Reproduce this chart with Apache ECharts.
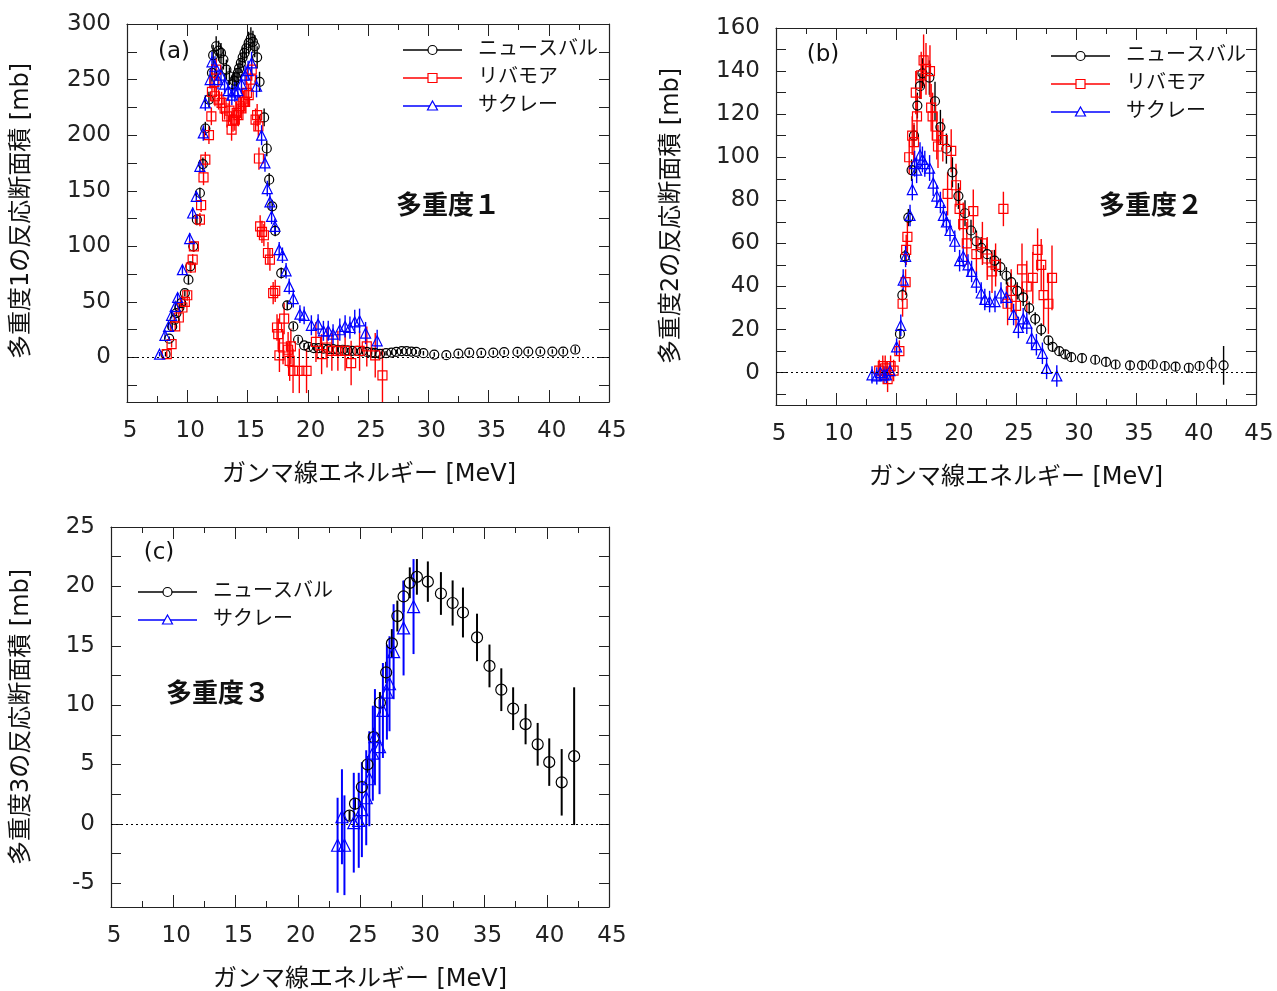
<!DOCTYPE html>
<html><head><meta charset="utf-8">
<script src="https://cdn.jsdelivr.net/npm/echarts@6/dist/echarts.min.js"></script>
<style>html,body{margin:0;padding:0;background:#fff;}#c{width:1277px;height:991px;}</style>
</head><body><div id="c"></div>
<script>
// ---------------- data: [energy MeV, cross section mb, error mb] ----------------
const SERIES_NAMES = ['ニュースバル', 'リバモア', 'サクレー'];
const X_LABEL = 'ガンマ線エネルギー [MeV]';
const Y_LABELS = ['多重度1の反応断面積 [mb]', '多重度2の反応断面積 [mb]', '多重度3の反応断面積 [mb]'];
const PANEL_TAGS = ['(a)', '(b)', '(c)'];
const PANEL_TITLES = ['多重度１', '多重度２', '多重度３'];
const X_RANGE = [5, 45, 5];
const Y_RANGES = [[-40, 300, 50], [-15, 160, 20], [-7, 25, 5]];

const A_NEWSUBARU = [
[8.2,3,2],[8.5,17,2],[8.75,28,3],[8.95,34,3],[9.1,40,3],[9.35,45,3],[9.5,49,3],[9.8,58,3],[10.1,70,4],[10.25,82,4],
[10.5,100,4],[10.8,124,5],[11.05,148,5],[11.3,174,6],[11.5,206,6],[11.8,232,7],[12.05,256,8],[12.15,272,9],[12.4,280,9],[12.6,276,9],
[12.8,274,9],[13.0,268,9],[13.25,259,9],[13.5,253,8],[13.75,246,8],[13.9,249,8],[14.05,252,8],[14.2,256,8],[14.3,260,8],[14.45,265,9],
[14.6,270,9],[14.75,274,9],[14.9,278,9],[15.1,283,10],[15.28,287,10],[15.45,284,10],[15.6,280,10],[15.8,270,10],[16.0,248,9],[16.38,216,8],
[16.6,188,7],[16.8,160,6],[17.05,136,6],[17.3,114,5],[17.8,76,5],[18.3,47,4],[18.8,28,3],[19.2,16,3],[19.7,11,2],[20.05,9.5,2],
[20.5,8.5,2],[20.9,8.5,2],[21.3,8,2],[21.7,7.5,2],[22.1,7.5,2],[22.5,7,2],[22.9,7,2],[23.3,6.5,2],[23.7,6,2],[24.1,6,2],
[24.5,5.5,2],[24.9,5,2],[25.3,4.5,2],[25.6,4,2],[26.0,3.3,2],[26.5,3.9,2],[26.95,4.5,2],[27.35,5.1,2],[27.8,5.7,2],[28.2,5.7,2],
[28.6,5.4,2],[29.0,5.1,2],[29.6,3.9,2],[30.5,2.7,2],[31.5,2.1,2],[32.5,3.6,2],[33.4,4.5,2],[34.4,4.2,2],[35.4,4.5,2],[36.3,4.8,2],
[37.4,5.1,2],[38.3,5.4,2],[39.3,5.4,2],[40.3,5.4,2],[41.2,5.4,2.5],[42.2,7.2,3]
];
const A_LIVERMORE = [
[8.3,3,3],[8.7,12,3],[9.0,28,4],[9.3,36,4],[9.6,45,4],[9.8,50,4],[10.0,56,5],[10.3,81,5],[10.45,88,5],[10.55,100,5],
[11.05,124,6],[11.15,137,6],[11.35,162,7],[11.5,178,7],[11.8,200,8],[12.0,217,8],[12.05,239,9],[12.25,248,9],[12.4,259,10],[12.3,235,9],
[12.6,232,9],[12.85,229,10],[13.1,224,10],[13.3,217,10],[13.5,222,10],[13.68,205,10],[13.8,213,10],[13.95,214,10],[14.1,220,10],[14.25,218,10],
[14.4,226,10],[14.5,224,10],[14.65,230,10],[14.8,230,10],[14.95,238,10],[15.1,236,10],[15.28,250,10],[15.35,259,10],[15.67,214,10],[15.8,218,10],
[15.9,208,10],[15.95,179,10],[16.05,118,10],[16.2,113,10],[16.36,110,10],[16.7,94,10],[16.86,88,10],[17.13,58,10],[17.3,60,10],[17.45,27,12],
[17.55,21,14],[17.65,2,15],[17.95,9,15],[18.04,35,14],[18.37,7,16],[18.5,-3,18],[18.6,10,16],[18.78,-12,20],[19.3,-12,20],[19.9,-12,20],
[20.68,14,18],[21.15,3,18],[21.6,9,18],[22.0,6,18],[22.5,6,18],[23.1,6,18],[23.6,-5,20],[24.3,6,18],[24.9,10,18],[25.6,2,20],[26.2,-16,24]
];
const A_SACLAY = [
[7.7,3,2],[8.15,20,3],[8.45,28,3],[8.7,38,3],[9.0,46,3],[9.2,54,4],[9.6,79,4],[10.2,107,5],[10.45,130,5],[10.75,145,5],
[11.05,172,6],[11.33,202,7],[11.5,229,7],[11.9,250,8],[12.05,266,9],[12.3,262,9],[12.55,250,9],[12.8,254,9],[13.1,246,9],[13.4,240,9],
[13.7,236,9],[13.95,239,9],[14.2,240,9],[14.5,246,9],[14.8,254,9],[15.05,258,9],[15.34,265,10],[15.75,244,10],[16.17,200,9],[16.45,175,8],
[16.64,152,7],[16.86,140,7],[17.0,127,7],[17.27,118,7],[17.63,97,7],[17.9,92,7],[18.2,78,7],[18.46,64,7],[18.8,53,8],[19.35,39,8],
[19.7,38,8],[20.3,29,9],[20.86,30,9],[21.3,24,9],[21.7,24,9],[22.1,21,9],[22.66,25,10],[23.1,28,10],[23.5,27,10],[23.9,32,11],
[24.3,33,11],[24.8,22,10],[25.76,15,10]
];
const B_NEWSUBARU = [
[15.33,18,2],[15.53,36,3],[15.75,54,3],[16.03,72,4],[16.3,94,5],[16.5,110,5],[16.78,124,6],[17.0,133,6],[17.2,139,7],[17.78,137,8],
[18.25,126,9],[18.7,114,8],[19.2,104,7],[19.7,93,7],[20.2,82,6],[20.75,74,6],[21.25,66,5],[21.7,61,5],[22.1,58,5],[22.6,55,5],
[23.2,52,5],[23.7,49,4],[24.2,45,4],[24.6,42,4],[25.1,38,4],[25.6,35,4],[26.1,30,3],[26.6,25,3],[27.1,20,3],[27.7,15,2],
[28.05,12,2],[28.6,10,2],[29.1,8.5,2],[29.6,7.2,2],[30.5,6.8,2],[31.6,6,2],[32.5,5,2],[33.3,3.8,2],[34.5,3.4,2],[35.5,3.4,2],
[36.4,3.8,2],[37.4,3.1,2],[38.3,2.8,2],[39.4,2.3,2],[40.3,3.1,2],[41.3,3.8,3.5],[42.3,3.4,9]
];
const B_LIVERMORE = [
[13.6,1,5],[13.9,3,5],[14.1,2,6],[14.3,-3,6],[14.55,3,5],[14.8,1,5],[15.28,10,5],[15.55,32,6],[15.8,42,6],[15.85,57,7],
[15.95,63,7],[16.1,100,8],[16.35,110,9],[16.5,107,9],[16.65,130,10],[16.75,119,10],[17.1,138,11],[17.3,145,12],[17.5,141,12],[17.83,140,12],
[17.93,123,11],[18.05,119,11],[18.4,110,11],[18.5,105,10],[18.9,108,10],[19.3,83,10],[19.6,103,10],[20.0,87,10],[20.3,76,10],[20.6,69,10],
[20.9,60,10],[21.44,75,10],[21.7,55,10],[22.2,60,10],[22.6,53,10],[23.0,47,10],[23.3,50,10],[23.95,76,8],[24.3,32,10],[24.6,38,10],
[25.0,31,10],[25.5,48,12],[25.9,40,12],[26.4,44,12],[26.8,57,10],[27.1,50,12],[27.3,36,14],[27.7,32,14],[28.0,44,15]
];
const B_SACLAY = [
[13.0,-1,4],[13.4,-1.5,4],[13.7,0,4],[14.0,-1,4],[14.2,-1,4],[14.5,1,4],[15.05,12,4],[15.4,22,5],[15.6,43,5],[15.8,54,5],
[16.17,73,5],[16.36,85,5],[16.55,97,6],[16.72,94,6],[17.0,101,6],[17.2,99,6],[17.4,97,6],[17.8,95,6],[18.1,88,6],[18.4,82,5],
[18.7,79,5],[18.95,73,5],[19.2,70,5],[19.5,66,5],[19.9,61,5],[20.3,52,5],[20.6,54,5],[21.0,50,5],[21.3,47,5],[21.7,42,5],
[22.1,37,5],[22.4,34,5],[22.8,33,5],[23.25,33,5],[23.75,37,5],[24.2,35,5],[24.8,27,5],[25.2,21,5],[25.6,25,5],[25.9,23,5],
[26.3,16,5],[26.7,13,5],[27.2,9,5],[27.55,2,5],[28.4,-1.5,5]
];
const C_NEWSUBARU = [
[24.16,0.7,0.4],[24.6,1.7,0.5],[25.15,3.1,0.6],[25.6,5.0,0.7],[26.1,7.3,0.8],[26.6,10.2,0.9],[27.1,12.75,0.9],[27.56,15.2,1.2],[28.0,17.5,1.3],[28.5,19.15,1.3],
[29.0,20.3,1.3],[29.57,20.8,1.5],[30.45,20.4,1.7],[31.5,19.4,1.8],[32.44,18.6,1.9],[33.27,17.8,2.1],[34.4,15.7,2.0],[35.4,13.3,1.8],[36.35,11.3,1.8],[37.3,9.7,1.8],
[38.3,8.4,1.7],[39.27,6.7,1.8],[40.2,5.2,2.0],[41.2,3.5,2.8],[42.2,5.7,5.8]
];
const C_SACLAY = [
[23.2,-1.8,4.0],[23.55,0.6,4.0],[23.75,-1.8,4.2],[24.5,0.1,4.2],[24.9,0.3,4.0],[25.15,1.2,4.0],[25.5,2.2,4.0],[25.75,3.8,4.0],[26.03,5.95,4.0],[26.2,7.35,4.0],
[26.57,6.5,4.0],[26.84,9.55,4.0],[27.16,11.1,4.0],[27.37,11.8,4.0],[27.7,14.5,4.0],[28.5,16.5,4.0],[29.3,18.3,4.0]
];

// ---------------- styling ----------------
const FONT = '"DejaVu Sans", "Noto Sans CJK JP", sans-serif';
const AX = '#222';
const STYLE = {
  'ニュースバル': {color: '#000000', symbol: 'circle'},
  'リバモア': {color: '#ff0000', symbol: 'rect'},
  'サクレー': {color: '#0000ff', symbol: 'triangle'}
};
const GRIDS = [
  {left: 127, top: 24, width: 482, height: 378},
  {left: 776, top: 28, width: 480, height: 377},
  {left: 111, top: 527, width: 498, height: 380}
];
const PANEL_DATA = [
  [['ニュースバル', A_NEWSUBARU], ['リバモア', A_LIVERMORE], ['サクレー', A_SACLAY]],
  [['ニュースバル', B_NEWSUBARU], ['リバモア', B_LIVERMORE], ['サクレー', B_SACLAY]],
  [['ニュースバル', C_NEWSUBARU], ['サクレー', C_SACLAY]]
];
const SYM_SIZE = [9, 9, 11];
const ERR_W = [1.4, 1.4, 2];

const xAxis = [], yAxis = [], series = [];
GRIDS.forEach((g, gi) => {
  const xb = {
    type: 'value', gridIndex: gi, min: X_RANGE[0], max: X_RANGE[1], interval: X_RANGE[2],
    axisLine: {show: true, onZero: false, lineStyle: {color: AX, width: 1.2}},
    axisTick: {show: true, inside: true, length: 12, lineStyle: {color: AX, width: 1}},
    minorTick: {show: true, splitNumber: 2, length: 6, lineStyle: {color: AX, width: 1}},
    splitLine: {show: false}, minorSplitLine: {show: false}
  };
  xAxis.push(Object.assign({}, xb, {position: 'bottom',
    axisLabel: {show: true, fontSize: 23, color: '#222', fontFamily: FONT, margin: 18, padding: [0, 0, 0, 6]}}));
  xAxis.push(Object.assign({}, xb, {position: 'top', axisLabel: {show: false}}));
  const yr = Y_RANGES[gi];
  const yb = {
    type: 'value', gridIndex: gi, min: yr[0], max: yr[1], minInterval: yr[2], maxInterval: yr[2],
    axisLine: {show: true, onZero: false, lineStyle: {color: AX, width: 1.2}},
    axisTick: {show: true, inside: true, length: 10, lineStyle: {color: AX, width: 1}},
    minorTick: {show: true, splitNumber: 2, length: 10, lineStyle: {color: AX, width: 1}},
    splitLine: {show: false}, minorSplitLine: {show: false}
  };
  yAxis.push(Object.assign({}, yb, {position: 'left',
    axisLabel: {show: true, fontSize: 23, color: '#222', fontFamily: FONT, margin: 16, padding: [3, 0, 0, 0],
      formatter: v => (Math.abs(v % yr[2]) < 1e-9 ? String(v) : '')}}));
  yAxis.push(Object.assign({}, yb, {position: 'right', axisLabel: {show: false}}));

  PANEL_DATA[gi].forEach(([name, arr], si) => {
    const st = STYLE[name];
    series.push({
      type: 'custom', name: name, xAxisIndex: gi * 2, yAxisIndex: gi * 2, data: arr,
      encode: {x: 0, y: 1}, clip: true, silent: true, z: 2,
      renderItem: (params, api) => {
        const x = api.value(0), y = api.value(1), e = api.value(2);
        const p1 = api.coord([x, y - e]), p2 = api.coord([x, y + e]);
        return {type: 'line', shape: {x1: p1[0], y1: p1[1], x2: p2[0], y2: p2[1]},
          style: {stroke: st.color, lineWidth: ERR_W[gi]}};
      }
    });
    const s = {
      type: 'scatter', name: name, xAxisIndex: gi * 2, yAxisIndex: gi * 2, data: arr,
      symbol: st.symbol, symbolSize: st.symbol === 'triangle' ? SYM_SIZE[gi] + 1 : SYM_SIZE[gi],
      itemStyle: {color: 'rgba(255,255,255,0)', borderColor: st.color, borderWidth: 1.2, opacity: 1},
      emphasis: {disabled: true}, silent: true, z: 3, clip: true
    };
    if (si === 0) {
      s.markLine = {silent: true, symbol: ['none', 'none'], label: {show: false},
        lineStyle: {type: [2, 3], color: '#000', width: 1}, data: [{yAxis: 0}], animation: false};
    }
    series.push(s);
  });
});

// ---------------- text + legends ----------------
const graphic = [];
function txt(x, y, text, size, opts) {
  graphic.push(Object.assign({type: 'text', x: x, y: y, z: 10,
    style: {text: text, fill: '#111', fontSize: size, fontFamily: FONT, align: 'center', verticalAlign: 'middle',
      fontWeight: (opts && opts.weight) || 'normal'}}, opts && opts.el));
}
function legend(x0, y0, names) {
  names.forEach((n, i) => {
    const st = STYLE[n], y = y0 + i * 28, cx = x0 + 29.5;
    graphic.push({type: 'line', z: 10, shape: {x1: x0, y1: y, x2: x0 + 59, y2: y}, style: {stroke: st.color, lineWidth: 1.5}});
    if (st.symbol === 'circle') graphic.push({type: 'circle', z: 11, shape: {cx: cx, cy: y, r: 4.5}, style: {fill: '#fff', stroke: st.color, lineWidth: 1.2}});
    if (st.symbol === 'rect') graphic.push({type: 'rect', z: 11, shape: {x: cx - 4.5, y: y - 4.5, width: 9, height: 9}, style: {fill: '#fff', stroke: st.color, lineWidth: 1.2}});
    if (st.symbol === 'triangle') graphic.push({type: 'polygon', z: 11, shape: {points: [[cx, y - 5], [cx + 5, y + 4], [cx - 5, y + 4]]}, style: {fill: '#fff', stroke: st.color, lineWidth: 1.2}});
    graphic.push({type: 'text', x: x0 + 75, y: y, z: 10, style: {text: n, fill: '#111', fontSize: 20, fontFamily: FONT, align: 'left', verticalAlign: 'middle'}});
  });
}
// axis titles
txt(22, 211, Y_LABELS[0], 24, {el: {rotation: Math.PI / 2}});
txt(672, 216, Y_LABELS[1], 24, {el: {rotation: Math.PI / 2}});
txt(22, 717, Y_LABELS[2], 24, {el: {rotation: Math.PI / 2}});
txt(369, 475, X_LABEL, 24);
txt(1016, 478, X_LABEL, 24);
txt(360, 980, X_LABEL, 24);
// panel tags and titles
txt(174, 52, PANEL_TAGS[0], 23);
txt(823, 55, PANEL_TAGS[1], 23);
txt(159, 553, PANEL_TAGS[2], 23);
txt(448, 207, PANEL_TITLES[0], 26, {weight: 'bold'});
txt(1151, 207, PANEL_TITLES[1], 26, {weight: 'bold'});
txt(218, 695, PANEL_TITLES[2], 26, {weight: 'bold'});
legend(403, 50, SERIES_NAMES);
legend(1051, 56, SERIES_NAMES);
legend(138, 592, ['ニュースバル', 'サクレー']);

const chart = echarts.init(document.getElementById('c'));
chart.setOption({
  animation: false,
  backgroundColor: '#fff',
  grid: GRIDS.map(g => Object.assign({containLabel: false}, g)),
  xAxis: xAxis, yAxis: yAxis, series: series, graphic: graphic
});
</script></body></html>
